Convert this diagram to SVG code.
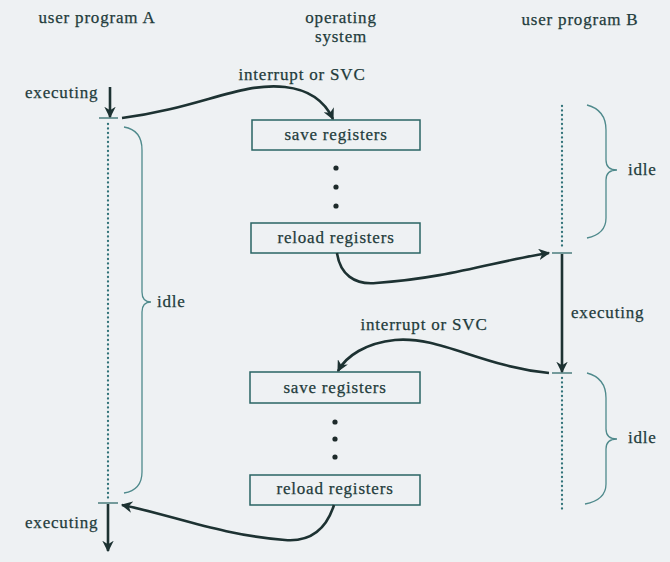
<svg xmlns="http://www.w3.org/2000/svg" width="670" height="562" viewBox="0 0 670 562">
<defs>
<style>
text{font-family:"Liberation Serif","Times New Roman",serif;font-size:17px;fill:#1f3c3c;letter-spacing:0.8px;stroke:#1f3c3c;stroke-width:0.25}
.box{fill:none;stroke:#2a6464;stroke-width:1.5}
.dot{fill:none;stroke:#2f7278;stroke-width:2.3;stroke-linecap:round;stroke-dasharray:0 4.5}
.brace{fill:none;stroke:#4f8a8c;stroke-width:1.3}
.arr{fill:none;stroke:#1d3232;stroke-width:2.6}
.tick{stroke:#3f7474;stroke-width:1.4}
.ell{fill:#1d2a2a}
</style>
<marker id="ah" viewBox="0 0 10 10" refX="9" refY="5" markerWidth="4.4" markerHeight="4.4" orient="auto" markerUnits="strokeWidth">
<path d="M0,0 L10,5 L0,10 L3,5 Z" fill="#1d3232"/>
</marker>
</defs>
<rect width="670" height="562" fill="#eef1f3"/>

<g id="headers">
<text x="97" y="23" text-anchor="middle">user program A</text>
<text x="341" y="23" text-anchor="middle">operating</text>
<text x="341" y="42" text-anchor="middle">system</text>
<text x="580" y="25" text-anchor="middle">user program B</text>
</g>

<g id="programA">
<line class="dot" x1="108" y1="124" x2="108" y2="500"/>
<line class="tick" x1="99" y1="118" x2="118" y2="118"/>
<line class="tick" x1="98" y1="503" x2="118" y2="503"/>
<path class="brace" d="M124,127 Q142,130 142,150 L142,292 Q142,302 151,302 Q142,302 142,312 L142,472 Q142,490 124,493"/>
<text x="157" y="307">idle</text>
<text x="25" y="98">executing</text>
<text x="25" y="528">executing</text>
</g>

<g id="programB">
<line class="dot" x1="562" y1="106" x2="562" y2="248"/>
<line class="dot" x1="562" y1="378" x2="562" y2="510"/>
<line class="tick" x1="552" y1="253" x2="572" y2="253"/>
<line class="tick" x1="552" y1="373" x2="572" y2="373"/>
<path class="brace" d="M587,105 Q606,110 606,130 L606,160 Q606,170 617,170 Q606,170 606,180 L606,218 Q606,234 587,238"/>
<text x="628" y="175">idle</text>
<path class="brace" d="M587,373 Q606,378 606,398 L606,429 Q606,439 617,439 Q606,439 606,449 L606,484 Q606,500 585,504"/>
<text x="628" y="443">idle</text>
<text x="571" y="318">executing</text>
</g>

<g id="save1">
<rect class="box" x="252" y="120" width="168" height="30"/>
<text x="336" y="140" text-anchor="middle">save registers</text>
</g>
<g id="ellipsis1">
<circle class="ell" cx="336" cy="168" r="2.6"/>
<circle class="ell" cx="336" cy="187" r="2.6"/>
<circle class="ell" cx="336" cy="206" r="2.6"/>
</g>
<g id="reload1">
<rect class="box" x="251" y="223" width="169" height="30"/>
<text x="336" y="243" text-anchor="middle">reload registers</text>
</g>
<g id="save2">
<rect class="box" x="250" y="372" width="170" height="31"/>
<text x="335" y="393" text-anchor="middle">save registers</text>
</g>
<g id="ellipsis2">
<circle class="ell" cx="335" cy="422" r="2.6"/>
<circle class="ell" cx="335" cy="439" r="2.6"/>
<circle class="ell" cx="335" cy="457" r="2.6"/>
</g>
<g id="reload2">
<rect class="box" x="250" y="475" width="170" height="30"/>
<text x="335" y="494" text-anchor="middle">reload registers</text>
</g>

<g id="labels">
<text x="302" y="80" text-anchor="middle">interrupt or SVC</text>
<text x="424" y="330" text-anchor="middle">interrupt or SVC</text>
</g>

<g id="connectors">
<line class="arr" x1="110" y1="87" x2="110" y2="117" marker-end="url(#ah)"/>
<line class="arr" x1="562" y1="254" x2="562" y2="372" marker-end="url(#ah)"/>
<line class="arr" x1="108" y1="504" x2="108" y2="551" marker-end="url(#ah)"/>
<path class="arr" d="M122,118 C200,108 240,82 285,87 C312,90 326,104 333,119" marker-end="url(#ah)"/>
<path class="arr" d="M337,253 C340,274 354,285 376,283 C450,278 500,260 549,253" marker-end="url(#ah)"/>
<path class="arr" d="M549,373 C480,366 440,336 395,340 C366,343 346,356 338,371" marker-end="url(#ah)"/>
<path class="arr" d="M334,505 C326,530 310,542 285,540 C220,535 172,515 122,505" marker-end="url(#ah)"/>
</g>
</svg>
